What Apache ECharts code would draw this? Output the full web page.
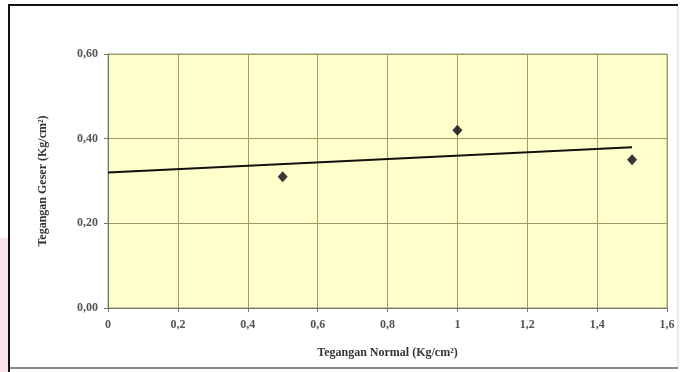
<!DOCTYPE html>
<html>
<head>
<meta charset="utf-8">
<script src="https://cdn.jsdelivr.net/npm/echarts@6/dist/echarts.min.js"></script>
<style>
  html, body { margin: 0; padding: 0; background: #ffffff; }
  #chart { width: 682px; height: 372px; }
</style>
</head>
<body>
<div id="chart"></div>
<script>
// Shear test results: normal stress vs shear stress
const normalStress = [0.5, 1.0, 1.5];
const shearStress = [0.31, 0.42, 0.35];

// Linear trend line endpoints (x, y)
const trendLine = [[0, 0.32], [1.5, 0.38]];

const xTicks = [0, 0.2, 0.4, 0.6, 0.8, 1, 1.2, 1.4, 1.6];
const yTicks = [0, 0.2, 0.4, 0.6];

const serif = '"Liberation Serif", "DejaVu Serif", serif';

function commaDecimal(v, digits) {
  if (digits === 0) return String(v).replace('.', ',');
  return v.toFixed(digits).replace('.', ',');
}

const chart = echarts.init(document.getElementById('chart'), null, { renderer: 'canvas' });

chart.setOption({
  backgroundColor: '#ffffff',
  animation: false,
  grid: {
    left: 108, right: 15, top: 54, bottom: 64,
    show: true,
    backgroundColor: '#ffffcc',
    borderColor: '#9a9a80',
    borderWidth: 1
  },
  xAxis: {
    type: 'value',
    min: xTicks[0],
    max: xTicks[xTicks.length - 1],
    interval: 0.2,
    name: 'Tegangan Normal (Kg/cm²)',
    nameLocation: 'middle',
    nameGap: 39,
    nameTextStyle: { fontFamily: serif, fontWeight: 'bold', fontSize: 12, color: '#333333' },
    axisLine: { show: true, lineStyle: { color: '#777766', width: 1 } },
    axisTick: { show: true, inside: false, length: 4, lineStyle: { color: '#777766' } },
    axisLabel: {
      fontFamily: serif, fontWeight: 'bold', fontSize: 12, color: '#555555', margin: 11,
      formatter: v => commaDecimal(Math.round(v * 10) / 10, 0)
    },
    splitLine: { show: true, lineStyle: { color: '#9c9c66', width: 1 } }
  },
  yAxis: {
    type: 'value',
    min: yTicks[0],
    max: yTicks[yTicks.length - 1],
    interval: 0.2,
    name: 'Tegangan Geser (Kg/cm²)',
    nameLocation: 'middle',
    nameGap: 59,
    nameRotate: 90,
    nameTextStyle: { fontFamily: serif, fontWeight: 'bold', fontSize: 12, color: '#333333' },
    axisLine: { show: true, lineStyle: { color: '#777766', width: 1 } },
    axisTick: { show: true, inside: false, length: 4, lineStyle: { color: '#777766' } },
    axisLabel: {
      fontFamily: serif, fontWeight: 'bold', fontSize: 12, color: '#555555', margin: 10,
      formatter: v => commaDecimal(v, 2)
    },
    splitLine: { show: true, lineStyle: { color: '#9c9c66', width: 1 } }
  },
  series: [
    {
      type: 'line',
      data: trendLine,
      showSymbol: false,
      symbol: 'none',
      lineStyle: { color: '#111111', width: 2 },
      z: 3
    },
    {
      type: 'scatter',
      data: normalStress.map((x, i) => [x, shearStress[i]]),
      symbol: 'diamond',
      symbolSize: [10, 11],
      itemStyle: { color: '#05050f' },
      z: 4
    }
  ],
  graphic: [
    // pale strip at the left edge
    { type: 'rect', left: 0, top: 238, shape: { width: 8, height: 134 }, style: { fill: '#f8e4e6' }, silent: true },
    // frame around the chart
    { type: 'line', shape: { x1: 9, y1: 5, x2: 678, y2: 5 }, style: { stroke: '#111111', lineWidth: 2 }, silent: true },
    { type: 'line', shape: { x1: 9, y1: 4, x2: 9, y2: 372 }, style: { stroke: '#111111', lineWidth: 2 }, silent: true },
    { type: 'line', shape: { x1: 678, y1: 6, x2: 678, y2: 368 }, style: { stroke: '#d6d6d6', lineWidth: 1 }, silent: true },
    { type: 'line', shape: { x1: 10, y1: 368, x2: 678, y2: 368 }, style: { stroke: '#8a8a8a', lineWidth: 2 }, silent: true }
  ]
});
</script>
</body>
</html>
